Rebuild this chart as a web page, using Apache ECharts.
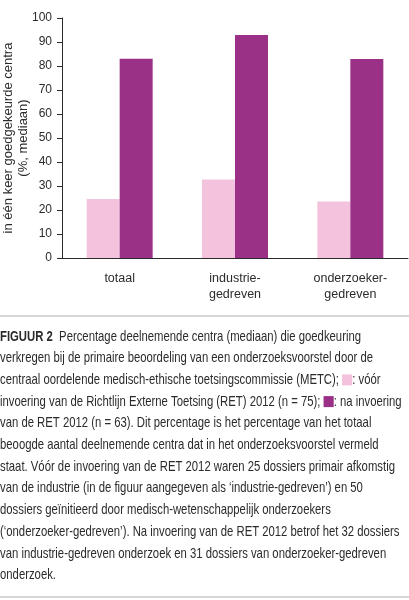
<!DOCTYPE html>
<html>
<head>
<meta charset="utf-8">
<script src="https://cdn.jsdelivr.net/npm/echarts@6/dist/echarts.min.js"></script>
<style>
  html, body { margin: 0; padding: 0; background: #fff; }
  #chart { width: 409px; height: 600px; }
</style>
</head>
<body>
<div id="chart"></div>
<script>
// categories and values (median % of centres approved in one go)
const categories = ['totaal', 'industrie-\ngedreven', 'onderzoeker-\ngedreven'];
const voorRet = [24.6, 32.7, 23.5];
const naRet = [83.0, 92.9, 82.9];
const yTicks = { min: 0, max: 100, interval: 10 };

const captionHead = 'FIGUUR 2';
const captionLines = [
    '{b|FIGUUR 2}  Percentage deelnemende centra (mediaan) die goedkeuring',
    'verkregen bij de primaire beoordeling van een onderzoeksvoorstel door de',
    'centraal oordelende medisch-ethische toetsingscommissie (METC); {light|}: vóór',
    'invoering van de Richtlijn Externe Toetsing (RET) 2012 (n = 75); {dark|}: na invoering',
    'van de RET 2012 (n = 63). Dit percentage is het percentage van het totaal',
    'beoogde aantal deelnemende centra dat in het onderzoeksvoorstel vermeld',
    'staat. Vóór de invoering van de RET 2012 waren 25 dossiers primair afkomstig',
    'van de industrie (in de figuur aangegeven als ‘industrie-gedreven’) en 50',
    'dossiers geïnitieerd door medisch-wetenschappelijk onderzoekers',
    '(‘onderzoeker-gedreven’). Na invoering van de RET 2012 betrof het 32 dossiers',
    'van industrie-gedreven onderzoek en 31 dossiers van onderzoeker-gedreven',
    'onderzoek.'
];

const FONT = "'Liberation Sans', Arial, sans-serif";
const LIGHT = '#f3c2dd';
const DARK = '#9b3087';
const INK = '#2b2b2b';
const CAP_SIZE = 14.5;

// squeeze the caption horizontally so the first line ends where it does in print
const ctx = document.createElement('canvas').getContext('2d');
ctx.font = 'bold ' + CAP_SIZE + 'px ' + FONT;
let firstW = ctx.measureText(captionHead).width;
ctx.font = CAP_SIZE + 'px ' + FONT;
firstW += ctx.measureText('  Percentage deelnemende centra (mediaan) die goedkeuring').width;
const capScale = 361 / firstW;

const chart = echarts.init(document.getElementById('chart'));

const captionGraphics = captionLines.map((line, i) => ({
    type: 'text',
    x: 0,
    y: 329 + i * 21.7,
    scaleX: capScale,
    style: {
        text: line,
        font: CAP_SIZE + 'px ' + FONT,
        fill: INK,
        rich: {
            b: { fontWeight: 'bold', fontSize: CAP_SIZE, fontFamily: FONT, fill: INK },
            light: { width: 13, height: 11, backgroundColor: LIGHT },
            dark: { width: 13, height: 11, backgroundColor: DARK }
        }
    }
}));

chart.setOption({
    animation: false,
    textStyle: { fontFamily: FONT },
    grid: { left: 62, right: 1, top: 18, bottom: 342, containLabel: false, outerBoundsMode: 'none' },
    xAxis: {
        type: 'category',
        data: categories,
        axisLine: { lineStyle: { color: INK, width: 1 } },
        axisTick: { length: 6, lineStyle: { color: INK } },
        axisLabel: { color: INK, fontSize: 12.5, lineHeight: 16, margin: 13 }
    },
    yAxis: {
        type: 'value',
        ...yTicks,
        name: 'in één keer goedgekeurde centra\n(%, mediaan)',
        nameLocation: 'middle',
        nameGap: 31,
        nameMoveOverlap: false,
        nameTextStyle: { color: INK, fontSize: 13, lineHeight: 15 },
        axisLine: { show: true, lineStyle: { color: INK, width: 1 } },
        axisTick: { show: true, length: 5, lineStyle: { color: INK } },
        axisLabel: { color: INK, fontSize: 12, margin: 10 },
        splitLine: { show: false }
    },
    series: [
        {
            name: 'vóór RET 2012',
            type: 'bar',
            data: voorRet,
            barWidth: 33,
            barGap: '0%',
            itemStyle: { color: LIGHT }
        },
        {
            name: 'na RET 2012',
            type: 'bar',
            data: naRet,
            barWidth: 33,
            barGap: '0%',
            itemStyle: { color: DARK }
        }
    ],
    graphic: [
        { type: 'rect', shape: { x: 0, y: 315, width: 409, height: 2 }, style: { fill: '#d6d6d6' } },
        { type: 'rect', shape: { x: 0, y: 596, width: 409, height: 2 }, style: { fill: '#d6d6d6' } },
        ...captionGraphics
    ]
});
</script>
</body>
</html>
